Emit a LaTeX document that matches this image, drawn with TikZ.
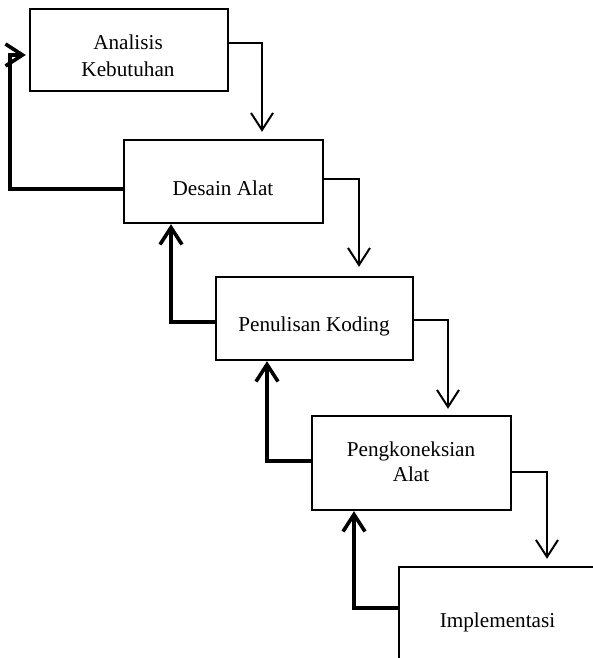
\documentclass[tikz,border=0pt]{standalone}
\usepackage{fontspec}
\setmainfont{Liberation Serif}
\usetikzlibrary{arrows.meta}
\begin{document}
\begin{tikzpicture}[x=0.5pt,y=-0.5pt,
  box/.style={draw=black,line width=1.2pt,rectangle,inner sep=0pt,fill=white},
  lbl/.style={font=\fontsize{10.6pt}{12.5pt}\selectfont,inner sep=0pt,anchor=base},
  fwd/.style={draw=black,line width=1pt,-{Straight Barb[length=8.5pt,width=11pt]}},
  back/.style={draw=black,line width=1.8pt,-{Straight Barb[length=8.5pt,width=11pt]}}]
\useasboundingbox (0,0) rectangle (593,658);
\begin{scope}
\clip (0,0) rectangle (593,658);
\node[box,minimum width=99pt,minimum height=41pt] (b1) at (129,50) {};
\node[box,minimum width=99.5pt,minimum height=41.5pt] (b2) at (223.5,181.5) {};
\node[box,minimum width=98.5pt,minimum height=41.5pt] (b3) at (314.5,318.5) {};
\node[box,minimum width=99.5pt,minimum height=47pt] (b4) at (411.5,463) {};
\node[box,minimum width=99pt,minimum height=47pt] (b5) at (498,614) {};
\end{scope}
\node[lbl] (t1a) at (128,50) {Analisis};
\node[lbl] (t1b) at (128,76) {Kebutuhan};
\node[lbl] (t2) at (223,195) {Desain Alat};
\node[lbl] (t3) at (314,331) {Penulisan Koding};
\node[lbl] (t4a) at (411,456) {Pengkoneksian};
\node[lbl] (t4b) at (411,481) {Alat};
\node[lbl] (t5) at (497.5,627) {Implementasi};
% forward arrows
\draw[fwd,shorten >=3.5pt] ([shift={(0,-7)}]b1.east) -| ([shift={(38.5,0)}]b2.north);
\draw[fwd,shorten >=4.5pt] ([shift={(0,-2.5)}]b2.east) -| ([shift={(44.5,0)}]b3.north);
\draw[fwd,shorten >=3pt] ([shift={(0,1.5)}]b3.east) -| ([shift={(36.5,0)}]b4.north);
\draw[fwd,shorten >=3.5pt] ([shift={(0,9)}]b4.east) -| ([shift={(49,0)}]b5.north);
% feedback arrows
\draw[back,shorten >=1.5pt] ([shift={(0,7.5)}]b2.west) -| ([shift={(-19,5)}]b1.west) -- ([shift={(0,5)}]b1.west);
\draw[back] ([shift={(0,3.5)}]b3.west) -| ([shift={(-52.5,0)}]b2.south);
\draw[back] ([shift={(0,-2)}]b4.west) -| ([shift={(-47.5,0)}]b3.south);
\draw[back] ([shift={(0,-6)}]b5.west) -| ([shift={(-57.5,0)}]b4.south);
\end{tikzpicture}
\end{document}
